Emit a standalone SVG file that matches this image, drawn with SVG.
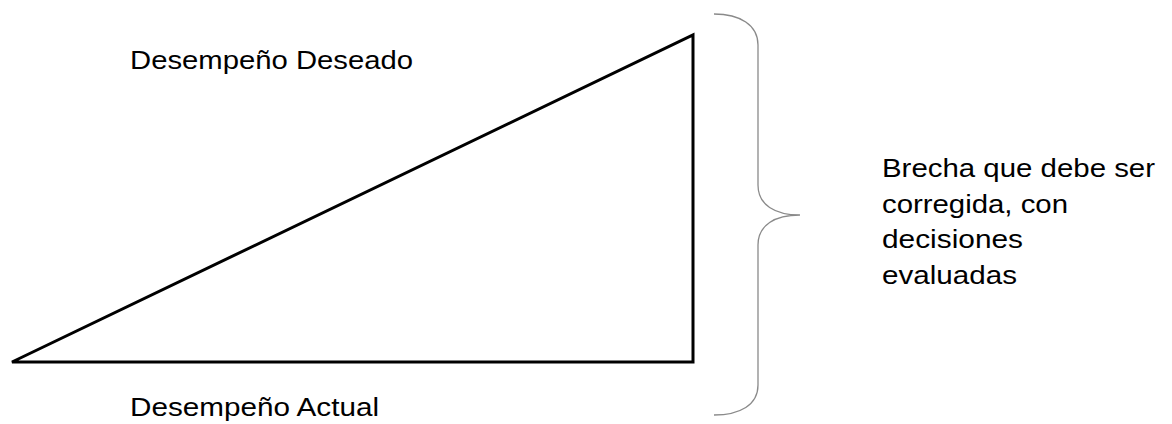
<svg xmlns="http://www.w3.org/2000/svg" width="1172" height="424" viewBox="0 0 1172 424">
<style>
text { font-family: "Liberation Sans", Arial, sans-serif; font-size: 26px; fill: #000; }
.tri { fill: none; stroke: #000; stroke-width: 3; stroke-linejoin: miter; }
.brace { fill: none; stroke: #8a8a8a; stroke-width: 1.3; }
</style>
<rect width="1172" height="424" fill="#fff"/>
<g id="triangle">
<polygon class="tri" points="12,362 693,362 693,35"/>
</g>
<g id="label-deseado">
<text x="130" y="69" textLength="283" lengthAdjust="spacingAndGlyphs">Desempeño Deseado</text>
</g>
<g id="label-actual">
<text x="130" y="416" textLength="249" lengthAdjust="spacingAndGlyphs">Desempeño Actual</text>
</g>
<g id="connectors">
<path class="brace" d="M714,14 C740,14 758,25 758,45 L758,185 C758,205 775,215 800,215 C775,215 758,225 758,245 L758,385 C758,405 740,415 714,415"/>
</g>
<g id="label-brecha">
<text x="882" y="177" textLength="273" lengthAdjust="spacingAndGlyphs">Brecha que debe ser</text>
<text x="882" y="213" textLength="186" lengthAdjust="spacingAndGlyphs">corregida, con</text>
<text x="882" y="248" textLength="141" lengthAdjust="spacingAndGlyphs">decisiones</text>
<text x="882" y="284" textLength="135" lengthAdjust="spacingAndGlyphs">evaluadas</text>
</g>
</svg>
